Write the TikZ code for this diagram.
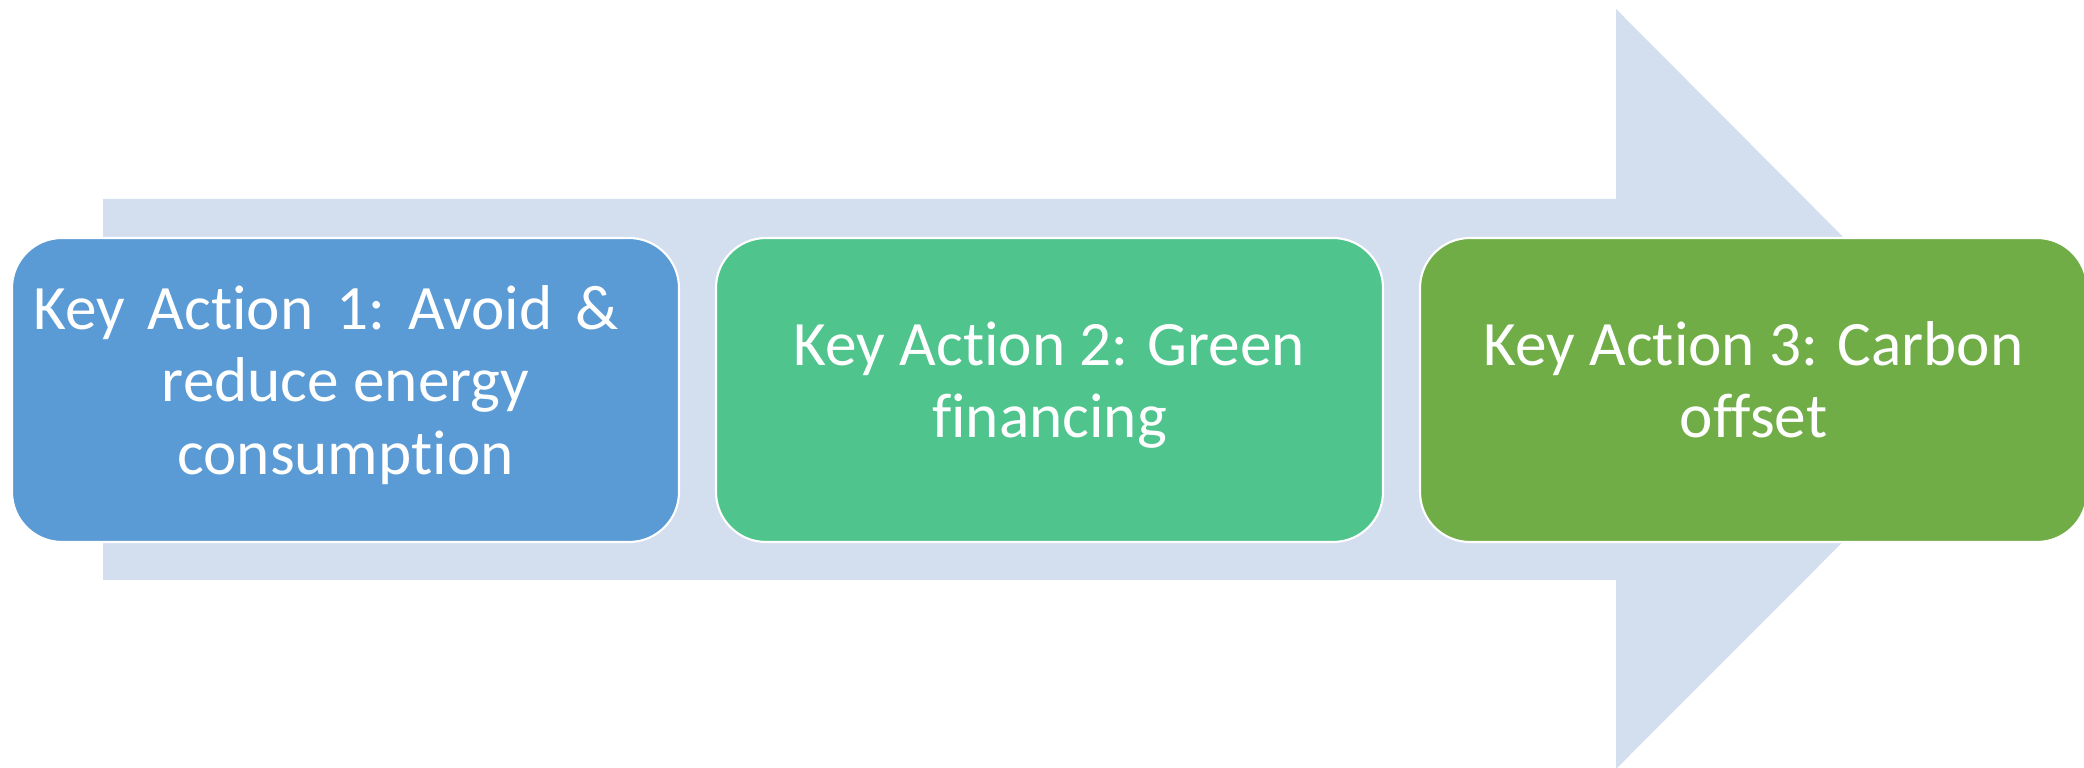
\documentclass[tikz,border=0pt]{standalone}
\usepackage{fontspec}
\setmainfont{Carlito}[Ligatures={NoCommon}]
\usepackage{tikz}
\definecolor{shaftgray}{HTML}{D3DEEF}
\definecolor{actblue}{HTML}{5B9BD5}
\definecolor{actteal}{HTML}{50C48D}
\definecolor{actgreen}{HTML}{70AD47}
\newcommand{\wsp}{\hspace{0.36em}}

\begin{document}
\begin{tikzpicture}[action/.style={rectangle, rounded corners=0.5cm, draw=white, line width=0.6pt, minimum width=6.67cm, minimum height=3.04cm, text=white, align=center, text depth=0.2cm, font=\fontsize{18}{20.5}\selectfont}]
    \useasboundingbox (0,0) rectangle (20.84,7.68);
    \clip (0,0) rectangle (20.84,7.68);
    \fill[shaftgray] (1.03,1.88) -- (16.16,1.88) -- (16.16,-0.01) -- (19.95,3.785) -- (16.16,7.59) -- (16.16,5.69) -- (1.03,5.69) -- cycle;
    \node[action, fill=actblue] (a) at (3.455, 3.78) {Key\wsp Action\wsp 1:\wsp Avoid\wsp \&\hspace*{0.39cm}\\reduce energy\\consumption};
    \node[action, fill=actteal] (b) at (10.495, 3.78) {Key Action 2: Green\\financing};
    \node[action, fill=actgreen] (c) at (17.535, 3.78) {Key Action 3: Carbon\\offset};
\end{tikzpicture}
\end{document}
